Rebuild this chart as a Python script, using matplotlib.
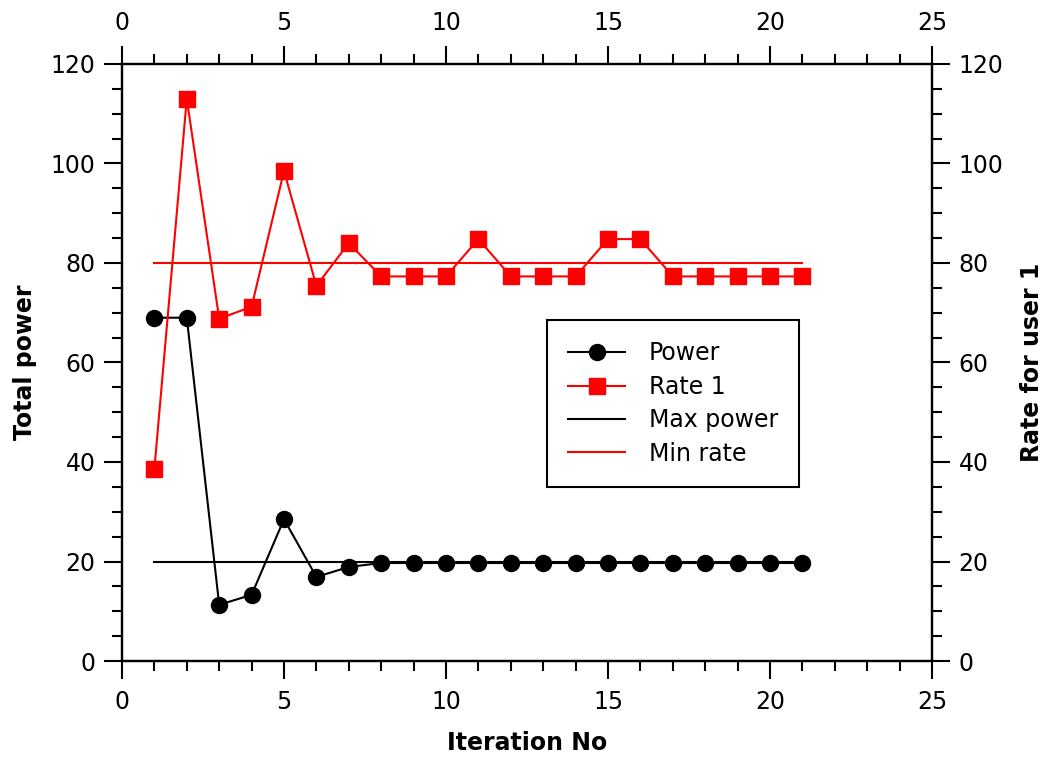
import matplotlib
matplotlib.use("Agg")
import matplotlib.pyplot as plt
from matplotlib.ticker import MultipleLocator

# iteration data
iterations = list(range(1, 22))
power = [69.0, 69.0, 11.3, 13.3, 28.5, 16.9, 18.9, 19.7, 19.7, 19.7, 19.7,
         19.7, 19.7, 19.7, 19.7, 19.7, 19.7, 19.7, 19.7, 19.7, 19.7]
rate1 = [38.6, 113.0, 68.8, 71.2, 98.5, 75.4, 84.0, 77.3, 77.3, 77.3, 84.8,
         77.3, 77.3, 77.3, 84.8, 84.8, 77.3, 77.3, 77.3, 77.3, 77.3]
max_power = [20, 20]
min_rate = [80, 80]
limit_x = [1, 21]

plt.rcParams["font.family"] = ["DejaVu Sans"]
FS = 17

fig = plt.figure(figsize=(10.47, 7.57), dpi=100)
ax = fig.add_axes([0.1165, 0.1268, 0.7737, 0.7887])
ax2 = ax.twinx()

h_power, = ax.plot(iterations, power, "-o", color="black", lw=1.5,
                   markersize=11.5, label="Power", zorder=3)
h_max, = ax.plot(limit_x, max_power, "-", color="black", lw=1.5,
                 label="Max power", zorder=2)
h_rate, = ax2.plot(iterations, rate1, "-s", color="red", lw=1.5,
                   markersize=11, label="Rate 1", zorder=3)
h_min, = ax2.plot(limit_x, min_rate, "-", color="red", lw=1.5,
                  label="Min rate", zorder=2)

for a in (ax, ax2):
    a.set_xlim(0, 25)
    a.set_ylim(0, 120)
    a.yaxis.set_major_locator(MultipleLocator(20))
    a.yaxis.set_minor_locator(MultipleLocator(5))
    for s in a.spines.values():
        s.set_linewidth(1.6)

ax.xaxis.set_major_locator(MultipleLocator(5))
ax.xaxis.set_minor_locator(MultipleLocator(1))
ax.tick_params(axis="both", which="major", direction="out", length=13,
               width=1.5, labelsize=FS, pad=6, top=True, labeltop=True)
ax.tick_params(axis="x", which="major", pad=8)
ax.tick_params(axis="both", which="minor", direction="out", length=7,
               width=1.5, top=True)
ax2.tick_params(axis="y", which="major", direction="out", length=13,
                width=1.5, labelsize=FS, pad=6)
ax2.tick_params(axis="y", which="minor", direction="out", length=7, width=1.5)

ax.set_xlabel("Iteration No", fontsize=FS, fontweight="bold", labelpad=12)
ax.set_ylabel("Total power", fontsize=FS, fontweight="bold", labelpad=10)
ax2.set_ylabel("Rate for user 1", fontsize=FS, fontweight="bold", labelpad=12)

leg = ax2.legend(handles=[h_power, h_rate, h_max, h_min], loc="upper left",
                 bbox_to_anchor=(0.5247, 0.571), borderaxespad=0, fontsize=FS,
                 fancybox=False, framealpha=1, edgecolor="black", borderpad=0.9,
                 handlelength=2.4, handletextpad=1.0, labelspacing=0.4)
leg.get_frame().set_linewidth(1.5)

fig.savefig("out.png", dpi=100)
